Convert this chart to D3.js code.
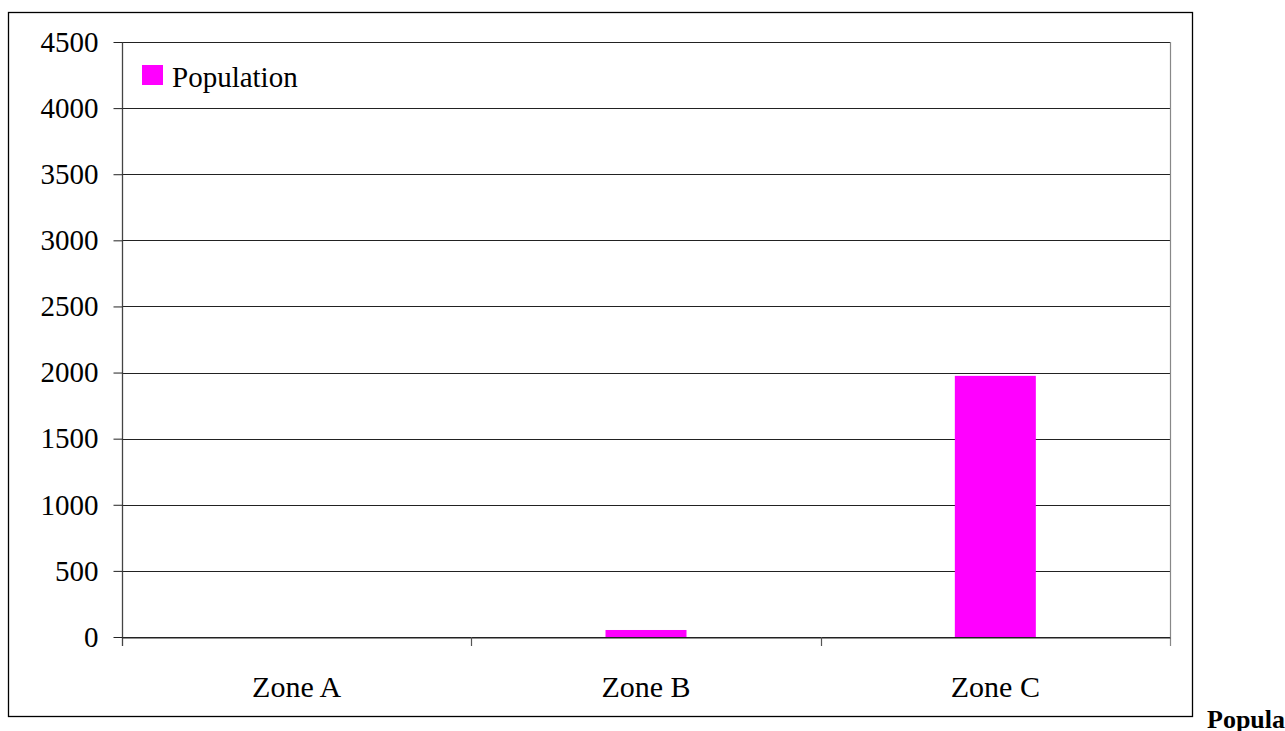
<!DOCTYPE html>
<html>
<head>
<meta charset="utf-8">
<script src="https://cdn.jsdelivr.net/npm/d3@7"></script>
<style>
  html, body { margin: 0; padding: 0; background: #fff; overflow: hidden; }
  svg { display: block; }
  text { font-family: "Liberation Serif", "DejaVu Serif", serif; }
</style>
</head>
<body>
<svg id="chart" width="1285" height="731"></svg>
<script>
const categories = ["Zone A", "Zone B", "Zone C"];
const populationValues = [0, 53, 1975];
const yTickValues = [0, 500, 1000, 1500, 2000, 2500, 3000, 3500, 4000, 4500];
const seriesName = "Population";

const svg = d3.select("#chart");
const plot = { left: 122, right: 1170, top: 42, bottom: 637 };

// outer border
svg.append("rect")
  .attr("x", 8.5).attr("y", 12.5)
  .attr("width", 1192 - 8).attr("height", 716 - 12)
  .attr("fill", "#fff").attr("stroke", "#000").attr("stroke-width", 1.3);

const x = d3.scaleBand().domain(categories).range([plot.left, plot.right]).paddingInner(0).paddingOuter(0);
const y = d3.scaleLinear().domain([0, 4500]).range([plot.bottom, plot.top]);

// gridlines
svg.append("g").selectAll("line").data(yTickValues).join("line")
  .attr("x1", plot.left).attr("x2", plot.right)
  .attr("y1", d => Math.round(y(d)) + 0.5).attr("y2", d => Math.round(y(d)) + 0.5)
  .attr("stroke", "#222").attr("stroke-width", 1);

// right vertical edge
svg.append("line")
  .attr("x1", plot.right + 0.5).attr("x2", plot.right + 0.5)
  .attr("y1", plot.top).attr("y2", plot.bottom + 9)
  .attr("stroke", "#888").attr("stroke-width", 1.2);

// bars
const barW = 81;
svg.append("g").selectAll("rect").data(populationValues).join("rect")
  .attr("x", (d, i) => x(categories[i]) + x.bandwidth() / 2 - barW / 2)
  .attr("width", barW)
  .attr("y", d => y(d))
  .attr("height", d => plot.bottom - y(d))
  .attr("fill", "#ff00ff");

// y axis
const yAxis = d3.axisLeft(y).tickValues(yTickValues).tickSize(9).tickPadding(15).tickFormat(d3.format("d"));
const gy = svg.append("g").attr("transform", `translate(${plot.left + 0.5},0)`).call(yAxis);
gy.select(".domain").attr("stroke", "#444").attr("stroke-width", 1.3)
  .attr("d", `M0,${plot.top}V${plot.bottom + 9}`);
gy.selectAll(".tick line").attr("stroke", "#222");
gy.selectAll(".tick text")
  .attr("font-size", 29).attr("fill", "#000")
  .style("font-family", '"Liberation Serif", serif');

// x axis
const xAxis = d3.axisBottom(x).tickSize(0);
const gx = svg.append("g").attr("transform", `translate(0,${plot.bottom + 0.5})`).call(xAxis);
gx.select(".domain").attr("stroke", "#222").attr("stroke-width", 1.2);
gx.selectAll(".tick text")
  .attr("y", 59).attr("dy", 0)
  .attr("font-size", 30).attr("fill", "#000")
  .style("font-family", '"Liberation Serif", serif');

// category separator ticks
const sepPositions = categories.slice(1).map(c => x(c));
svg.append("g").selectAll("line").data(sepPositions).join("line")
  .attr("x1", d => Math.round(d) + 0.5).attr("x2", d => Math.round(d) + 0.5)
  .attr("y1", plot.bottom).attr("y2", plot.bottom + 9)
  .attr("stroke", "#555").attr("stroke-width", 1.2);

// legend
svg.append("rect").attr("x", 142).attr("y", 65).attr("width", 21).attr("height", 20).attr("fill", "#ff00ff");
svg.append("text").attr("x", 172).attr("y", 87).attr("font-size", 29)
  .attr("fill", "#000").text(seriesName);

// title at bottom right, cut off by the page edge as in the reference
svg.append("text").attr("x", 1207).attr("y", 728).attr("font-size", 26).attr("font-weight", "bold")
  .attr("fill", "#000").text(seriesName);
</script>
</body>
</html>
